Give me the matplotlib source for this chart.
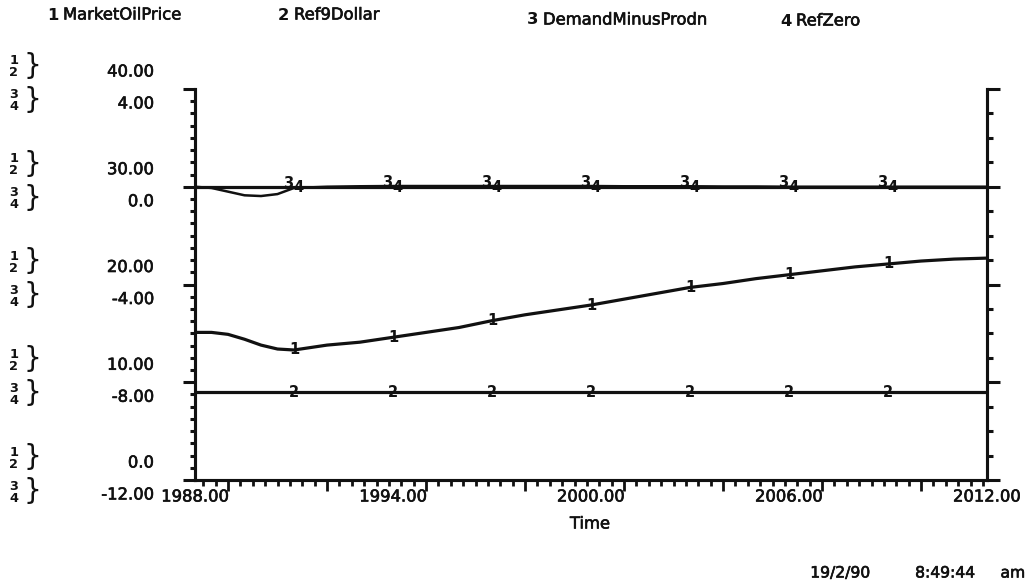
import numpy as np
import matplotlib
matplotlib.use("Agg")
import matplotlib.pyplot as plt
from matplotlib.ticker import MultipleLocator
import matplotlib.transforms as mtransforms
import matplotlib.patheffects as pe

# ---------------- data ----------------
years = [1988, 1988.5, 1989, 1989.5, 1990, 1990.5, 1991, 1992, 1993, 1994, 1995,
         1996, 1997, 1998, 1999, 2000, 2001, 2002, 2003, 2004, 2005, 2006,
         2007, 2008, 2009, 2010, 2011, 2012]
market_oil_price = [15.1, 15.1, 14.9, 14.4, 13.8, 13.4, 13.3, 13.8, 14.1, 14.6, 15.1,
                    15.6, 16.3, 16.9, 17.4, 17.9, 18.5, 19.1, 19.7, 20.1, 20.6, 21.0,
                    21.4, 21.8, 22.1, 22.4, 22.6, 22.7]
ref9_dollar = [9.0] * len(years)
demand_minus_prodn = [0.0, -0.05, -0.2, -0.35, -0.38, -0.3, -0.05, 0.0, 0.02, 0.03, 0.03,
                      0.03, 0.03, 0.03, 0.03, 0.03, 0.02, 0.02, 0.02, 0.01, 0.01, 0.0,
                      0.0, 0.0, 0.0, 0.0, 0.0, 0.0]
ref_zero = [0.0] * len(years)

legend_names = ["MarketOilPrice", "Ref9Dollar", "DemandMinusProdn", "RefZero"]
scale12_labels = ["0.0", "10.00", "20.00", "30.00", "40.00"]
scale34_labels = ["-12.00", "-8.00", "-4.00", "0.0", "4.00"]
x_tick_years = [1988, 1994, 2000, 2006, 2012]
x_tick_labels = ["1988.00", "1994.00", "2000.00", "2006.00", "2012.00"]
marker_years = [1991, 1994, 1997, 2000, 2003, 2006, 2009]
x_title = "Time"
stamp_parts = ["19/2/90", "8:49:44", "am"]

# ---------------- figure ----------------
W, H = 1029, 588
fig = plt.figure(figsize=(W / 100, H / 100), dpi=100)
fig.patch.set_facecolor("white")
plt.rcParams["font.family"] = ["DejaVu Sans"]

ink = "#111111"
heavy = [pe.withStroke(linewidth=0.45, foreground=ink)]

L, R, T, B = 195, 987, 89, 480
ax = fig.add_axes([L / W, 1 - B / H, (R - L) / W, (B - T) / H])
ax2 = ax.twinx()

ax.set_xlim(1988, 2012)
ax.set_ylim(0, 40)
ax2.set_ylim(-12, 4)

lw = 2.3
ax.plot(years, market_oil_price, color=ink, lw=lw, zorder=3)
ax.plot(years, ref9_dollar, color=ink, lw=lw, zorder=3)
ax2.plot(years, demand_minus_prodn, color=ink, lw=1.8, zorder=3)
ax2.plot(years, ref_zero, color=ink, lw=lw, zorder=3)

for a in (ax, ax2):
    a.spines["top"].set_visible(False)
    for s in ("left", "right", "bottom"):
        a.spines[s].set_linewidth(2.2)
        a.spines[s].set_color(ink)
    a.patch.set_visible(False)

ax.yaxis.set_major_locator(MultipleLocator(10))
ax.yaxis.set_minor_locator(MultipleLocator(1.25))
ax.tick_params(axis="y", which="major", direction="out", length=9, width=2.2, colors=ink,
               labelleft=False, left=True, right=False)
ax.tick_params(axis="y", which="minor", direction="out", length=3.5, width=2.2, colors=ink)
ax2.yaxis.set_major_locator(MultipleLocator(4))
ax2.yaxis.set_minor_locator(MultipleLocator(1))
ax2.tick_params(axis="y", which="major", direction="out", length=9, width=2.2, colors=ink,
                labelright=False, right=True)
ax2.tick_params(axis="y", which="minor", direction="out", length=4, width=2.2, colors=ink)

ax.xaxis.set_major_locator(MultipleLocator(3))
ax.xaxis.set_minor_locator(MultipleLocator(0.375))
ax.tick_params(axis="x", which="major", direction="out", length=8, width=2.0, colors=ink,
               labelbottom=False)
ax.tick_params(axis="x", which="minor", direction="out", length=4, width=2.0, colors=ink)

fs = 11.8
xtr = mtransforms.offset_copy(ax.get_xaxis_transform(), fig=fig, x=0, y=-17, units="dots")
for yr, lab in zip(x_tick_years, x_tick_labels):
    ax.text(yr, 0, lab, transform=xtr, ha="center", va="center",
            fontsize=fs, color=ink, path_effects=heavy)
fig.text(590 / W, 1 - 524 / H, x_title, ha="center", va="center", fontsize=fs,
         color=ink, path_effects=heavy)
for txt, sx in zip(stamp_parts, [870, 975, 1025]):
    fig.text(sx / W, 1 - 573 / H, txt, ha="right", va="center", fontsize=11.2,
             color=ink, path_effects=heavy)

# left paired labels and group keys
ytr = ax.get_yaxis_transform()
xlab = (154 - L) / (R - L)
xdig = (14 - L) / (R - L)
xbr = (32 - L) / (R - L)
for v12, l12, l34 in zip([0, 10, 20, 30, 40], scale12_labels, scale34_labels):
    up = mtransforms.offset_copy(ytr, fig=fig, x=0, y=17, units="dots")
    dn = mtransforms.offset_copy(ytr, fig=fig, x=0, y=-15, units="dots")
    ax.text(xlab, v12, l12, transform=up, ha="right", va="center", fontsize=fs,
            color=ink, clip_on=False, path_effects=heavy)
    ax.text(xlab, v12, l34, transform=dn, ha="right", va="center", fontsize=fs,
            color=ink, clip_on=False, path_effects=heavy)
    for k, dy in enumerate([29.5, 17.5, -4.5, -16.5]):
        tr = mtransforms.offset_copy(ytr, fig=fig, x=0, y=dy, units="dots")
        ax.text(xdig, v12, str(k + 1), transform=tr, ha="center", va="center_baseline",
                fontsize=9.3, weight="bold", color=ink, clip_on=False)
    for dy in (23, -11):
        tr = mtransforms.offset_copy(ytr, fig=fig, x=0, y=dy, units="dots")
        ax.text(xbr, v12, "}", transform=tr, ha="center", va="center",
                fontsize=20, color=ink, clip_on=False)

# digit markers on the curves
mk_fs = 10.5
for yr in marker_years:
    ax.text(yr, np.interp(yr, years, market_oil_price), "1", ha="center", va="center",
            fontsize=mk_fs, weight="bold", color=ink, zorder=5)
    ax.text(yr, np.interp(yr, years, ref9_dollar), "2", ha="center", va="center",
            fontsize=mk_fs, weight="bold", color=ink, zorder=5)
    tr3 = mtransforms.offset_copy(ax2.transData, fig=fig, x=-6, y=4, units="dots")
    ax2.text(yr, np.interp(yr, years, demand_minus_prodn), "3", transform=tr3,
             ha="center", va="center", fontsize=mk_fs, weight="bold", color=ink, zorder=5)
    tr4 = mtransforms.offset_copy(ax2.transData, fig=fig, x=4, y=-1, units="dots")
    ax2.text(yr, np.interp(yr, years, ref_zero), "4", transform=tr4,
             ha="center", va="center", fontsize=mk_fs, weight="bold", color=ink, zorder=5)

# header key
hdr = [(47, 15), (278, 15), (527, 20), (780, 21)]
for i, (name, (hx, hy)) in enumerate(zip(legend_names, hdr)):
    fig.text(hx / W, 1 - hy / H, str(i + 1), ha="left", va="center", fontsize=fs,
             weight="bold", color=ink)
    fig.text((hx + 16) / W, 1 - hy / H, name, ha="left", va="center", fontsize=fs,
             color=ink, path_effects=heavy)

fig.savefig("out.png", dpi=100, facecolor="white")
